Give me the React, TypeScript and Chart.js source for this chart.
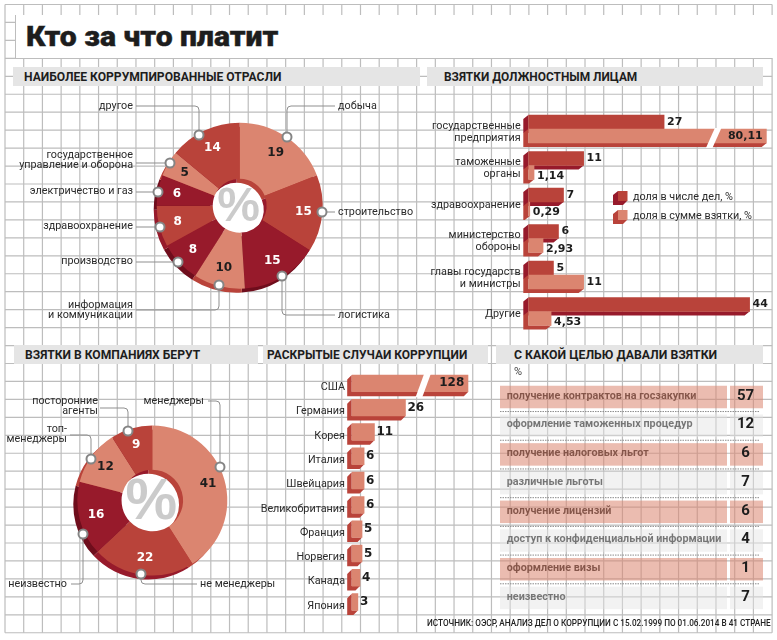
import { useEffect, useRef } from "react";
import { Chart, registerables } from "chart.js";
Chart.register(...registerables);

// ---------- data ----------
const sectorLabels = [["добыча"], ["строительство"], ["логистика"], ["информация", "и коммуникации"], ["производство"], ["здравоохранение"], ["электричество и газ"], ["государственное", "управление и оборона"], ["другое"]];
const sectorValues = [19, 15, 15, 10, 8, 8, 6, 5, 14];
const officialLabels = [["государственные", "предприятия"], ["таможенные", "органы"], ["здравоохранение"], ["министерство", "обороны"], ["главы государств", "и министры"], ["Другие"]];
const shareOfCases = [27, 11, 7, 6, 5, 44];
const shareOfBribes = [80.11, 1.14, 0.29, 2.93, 11, 4.53];
const seriesNames = ["доля в числе дел, %", "доля в сумме взятки, %"];
const roleLabels = [["менеджеры"], ["не менеджеры"], ["неизвестно"], ["топ-", "менеджеры"], ["посторонние", "агенты"]];
const roleValues = [41, 22, 16, 12, 9];
const countries = ["США", "Германия", "Корея", "Италия", "Швейцария", "Великобритания", "Франция", "Норвегия", "Канада", "Япония"];
const countryCases = [128, 26, 11, 6, 6, 6, 5, 5, 4, 3];
const purposes = ["получение контрактов на госзакупки", "оформление таможенных процедур", "получение налоговых льгот", "различные льготы", "получение лицензий", "доступ к конфиденциальной информации", "оформление визы", "неизвестно"];
const purposeValues = [57, 12, 6, 7, 6, 4, 1, 7];
const headers = [
  { text: "НАИБОЛЕЕ КОРРУМПИРОВАННЫЕ ОТРАСЛИ", x: 13, y: 67, w: 407, tx: 24, sx: 0.93 },
  { text: "ВЗЯТКИ ДОЛЖНОСТНЫМ ЛИЦАМ", x: 427, y: 67, w: 336, tx: 444, sx: 0.915 },
  { text: "ВЗЯТКИ В КОМПАНИЯХ БЕРУТ", x: 14, y: 345, w: 244, tx: 25, sx: 0.93 },
  { text: "РАСКРЫТЫЕ СЛУЧАИ КОРРУПЦИИ", x: 263, y: 345, w: 225, tx: 267, sx: 0.92 },
  { text: "С КАКОЙ ЦЕЛЬЮ ДАВАЛИ ВЗЯТКИ", x: 496, y: 345, w: 267, tx: 514, sx: 0.945 },
];

// ---------- styles ----------
const LIGHT = "#db8570", MID = "#b9433a", DARK = "#971a2b", DEEP = "#6f0d1c";
const SIDE: Record<string, string> = { [LIGHT]: MID, [MID]: DARK, [DARK]: DEEP };
const sectorColors = [LIGHT, MID, DARK, LIGHT, DARK, MID, DARK, LIGHT, MID];
const roleColors = [LIGHT, MID, DARK, LIGHT, MID];
const LABEL_FONT = "Roboto, sans-serif";
const LABEL_SIZE = 10.8;
const VALUE_FONT = "bold 12px 'DejaVu Sans', sans-serif";
const INK = "#2b2b2b";

type Leader = { m: [number, number]; path: [number, number][]; tx: number; ty: number; align: CanvasTextAlign };
const sectorLeaders: Leader[] = [
  { m: [287, 137], path: [[335, 106], [287, 106], [287, 137]], tx: 338, ty: 106, align: "left" },
  { m: [322, 212], path: [[335, 212], [322, 212]], tx: 338, ty: 212, align: "left" },
  { m: [282, 276], path: [[335, 315], [282, 315], [282, 276]], tx: 338, ty: 315, align: "left" },
  { m: [219, 285], path: [[136, 310], [219, 310], [219, 285]], tx: 133, ty: 305, align: "right" },
  { m: [178, 262], path: [[136, 262], [178, 262]], tx: 133, ty: 261, align: "right" },
  { m: [160, 227], path: [[136, 227], [160, 227]], tx: 133, ty: 226, align: "right" },
  { m: [158, 192], path: [[136, 192], [158, 192]], tx: 133, ty: 191, align: "right" },
  { m: [170, 163], path: [[136, 163], [170, 163]], tx: 133, ty: 155, align: "right" },
  { m: [199, 135], path: [[136, 106], [199, 106], [199, 135]], tx: 133, ty: 106, align: "right" },
];
const roleLeaders: Leader[] = [
  { m: [220, 467], path: [[208, 401], [220, 401], [220, 467]], tx: 204, ty: 401, align: "right" },
  { m: [141, 574], path: [[197, 584], [141, 584], [141, 574]], tx: 200, ty: 584, align: "left" },
  { m: [83, 534], path: [[71, 584], [83, 584], [83, 534]], tx: 67, ty: 584, align: "right" },
  { m: [91, 459], path: [[70, 435], [91, 435], [91, 459]], tx: 67, ty: 429, align: "right" },
  { m: [128, 431], path: [[100, 408], [128, 408], [128, 431]], tx: 98, ty: 401, align: "right" },
];

function donutPlugin(o: { left: number; top: number; dx: number; dy: number; labelR: number; pctFont: string; leaders: Leader[]; labels: string[][] }) {
  return {
    id: "donut3d",
    beforeDatasetsDraw(chart: any) {
      const ctx = chart.ctx;
      const arcs = chart.getDatasetMeta(0).data;
      const colors = chart.data.datasets[0].backgroundColor;
      const { x, y, innerRadius, outerRadius } = arcs[0];
      ctx.save();
      ctx.fillStyle = "#fff";
      ctx.beginPath();
      ctx.arc(x, y, innerRadius + 1, 0, Math.PI * 2);
      ctx.fill();
      arcs.forEach((a: any, i: number) => {
        ctx.fillStyle = SIDE[colors[i]];
        ctx.beginPath();
        ctx.arc(x + o.dx, y + o.dy, outerRadius, a.startAngle, a.endAngle);
        ctx.arc(x + o.dx, y + o.dy, innerRadius, a.endAngle, a.startAngle, true);
        ctx.closePath();
        ctx.fill();
      });
      ctx.restore();
    },
    afterDatasetsDraw(chart: any) {
      const ctx = chart.ctx;
      const arcs = chart.getDatasetMeta(0).data;
      const ds = chart.data.datasets[0];
      const { x, y } = arcs[0];
      ctx.save();
      ctx.fillStyle = "rgba(200,200,200,0.95)";
      ctx.font = o.pctFont;
      ctx.textAlign = "center";
      ctx.textBaseline = "middle";
      ctx.fillText("%", x - 1, y + 2);
      ctx.font = VALUE_FONT;
      arcs.forEach((a: any, i: number) => {
        const mid = (a.startAngle + a.endAngle) / 2;
        ctx.fillStyle = ds.backgroundColor[i] === LIGHT ? "#1d1d1d" : "#fff";
        ctx.fillText(String(ds.data[i]), x + Math.cos(mid) * o.labelR, y + Math.sin(mid) * o.labelR);
      });
      ctx.translate(-o.left, -o.top);
      o.leaders.forEach((l, i) => {
        ctx.strokeStyle = "#8f8f8f";
        ctx.lineWidth = 1;
        ctx.beginPath();
        ctx.moveTo(l.path[0][0], l.path[0][1]);
        for (let k = 1; k < l.path.length - 1; k++) ctx.arcTo(l.path[k][0], l.path[k][1], l.path[k + 1][0], l.path[k + 1][1], 4);
        const e = l.path[l.path.length - 1];
        ctx.lineTo(e[0], e[1]);
        ctx.stroke();
        ctx.beginPath();
        ctx.arc(l.m[0], l.m[1], 4.5, 0, Math.PI * 2);
        ctx.fillStyle = "#fff";
        ctx.fill();
        ctx.strokeStyle = "#858585";
        ctx.lineWidth = 2;
        ctx.stroke();
        ctx.fillStyle = INK;
        ctx.font = `${LABEL_SIZE}px ${LABEL_FONT}`;
        ctx.textAlign = l.align;
        o.labels[i].forEach((t, k) => ctx.fillText(t, l.tx, l.ty + k * 10.5));
      });
      ctx.restore();
    },
  };
}

function donutConfig(values: number[], colors: string[], cutout: string, box: any, plugin: any) {
  return {
    type: "doughnut",
    data: { labels: values.map(String), datasets: [{ data: values, backgroundColor: colors, borderWidth: 0 }] },
    options: {
      responsive: false,
      animation: false,
      cutout,
      layout: { padding: box },
      plugins: { legend: { display: false }, tooltip: { enabled: false } },
    },
    plugins: [plugin],
  };
}

function fmt(v: number) {
  return String(v).replace(".", ",");
}

function barPlugin(o: { dx: number; dy: number; breakValue: number; gap: number; slant: number; legend?: boolean; left?: number; top?: number; labelGap: number; font: string; shortDrop: number }) {
  return {
    id: "bar3d",
    beforeDatasetsDraw(chart: any) {
      const { ctx, chartArea: a, scales } = chart;
      chart.data.datasets.forEach((ds: any, di: number) => {
        const color = ds.backgroundColor;
        chart.getDatasetMeta(di).data.forEach((b: any) => {
          const top = b.y - b.height / 2, bot = b.y + b.height / 2, xEnd = Math.min(b.x, a.right), x0 = b.base;
          ctx.save();
          ctx.fillStyle = SIDE[color];
          ctx.beginPath();
          ctx.moveTo(x0, top);
          ctx.lineTo(x0 - o.dx, top + o.dy);
          ctx.lineTo(x0 - o.dx, bot + o.dy);
          ctx.lineTo(xEnd - o.dx, bot + o.dy);
          ctx.lineTo(xEnd, bot);
          ctx.lineTo(x0, bot);
          ctx.closePath();
          ctx.fill();
          ctx.beginPath();
          ctx.rect(a.left, 0, a.right - a.left, chart.height);
          ctx.clip();
          b.draw(ctx);
          ctx.restore();
          if (b.x > a.right) {
            const X = scales.x.getPixelForValue(o.breakValue);
            const h0 = top - 1, h1 = bot + o.dy + 1;
            ctx.save();
            ctx.fillStyle = "#fff";
            ctx.beginPath();
            ctx.moveTo(X, h0);
            ctx.lineTo(X + o.gap, h0);
            ctx.lineTo(X + o.gap - o.slant, h1);
            ctx.lineTo(X - o.slant, h1);
            ctx.closePath();
            ctx.fill();
            ctx.restore();
          }
        });
      });
      ctx.save();
      ctx.font = o.font;
      ctx.fillStyle = "#1d1d1d";
      ctx.textBaseline = "middle";
      chart.data.datasets.forEach((ds: any, di: number) => {
        chart.getDatasetMeta(di).data.forEach((b: any, i: number) => {
          const clipped = b.x > a.right;
          const drop = di === 1 && b.x - b.base < 30 ? o.shortDrop : 0;
          ctx.textAlign = clipped ? "right" : "left";
          ctx.fillText(fmt(ds.data[i]), clipped ? a.right - 4 : b.x + o.labelGap, b.y + drop);
        });
      });
      if (o.legend) {
        ctx.translate(-(o.left || 0), -(o.top || 0));
        chart.data.datasets.forEach((ds: any, di: number) => {
          const X = 618, Y = 191 + di * 19;
          ctx.fillStyle = SIDE[ds.backgroundColor];
          ctx.beginPath();
          ctx.moveTo(X, Y);
          ctx.lineTo(X - 5, Y + 4);
          ctx.lineTo(X - 5, Y + 14);
          ctx.lineTo(X + 5, Y + 14);
          ctx.lineTo(X + 9, Y + 10);
          ctx.lineTo(X, Y + 10);
          ctx.closePath();
          ctx.fill();
          ctx.fillStyle = ds.backgroundColor;
          ctx.fillRect(X, Y, 9.5, 10);
          ctx.fillStyle = INK;
          ctx.textAlign = "left";
          ctx.font = `${LABEL_SIZE}px ${LABEL_FONT}`;
          ctx.fillText(ds.label, 633, Y + 6);
        });
      }
      ctx.restore();
      return false;
    },
  };
}

function barConfig(o: { labels: any[]; datasets: any[]; thickness: number; axisW: number; max: number; padding: any; plugin: any; tickFont: any; tickPad: number; labelOffset: number }) {
  return {
    type: "bar",
    data: { labels: o.labels, datasets: o.datasets.map((d) => ({ ...d, barThickness: o.thickness, borderWidth: 0 })) },
    options: {
      indexAxis: "y",
      responsive: false,
      animation: false,
      layout: { padding: o.padding },
      plugins: { legend: { display: false }, tooltip: { enabled: false } },
      scales: {
        x: { display: false, min: 0, max: o.max },
        y: {
          grid: { display: false, drawTicks: false },
          border: { display: false },
          afterFit: (s: any) => { s.width = o.axisW; s.paddingTop = 0; s.paddingBottom = 0; },
          ticks: { autoSkip: false, padding: o.tickPad, labelOffset: o.labelOffset, font: o.tickFont, color: INK, maxRotation: 0, minRotation: 0 },
        },
      },
    },
    plugins: [o.plugin],
  };
}

const tablePlugin = {
  id: "purposeTable",
  beforeDatasetsDraw(chart: any) {
    const { ctx, chartArea: a, scales } = chart;
    const data = chart.data.datasets[0].data;
    ctx.save();
    const L = 10, R1 = a.left, R2 = a.left + 3, R3 = a.left + 36, H = 22.5;
    data.forEach((v: number, i: number) => {
      const y = scales.y.getPixelForTick(i);
      ctx.fillStyle = i % 2 === 0 ? "rgba(219,133,112,0.55)" : "rgba(226,226,226,0.45)";
      ctx.fillRect(L, y - H / 2, R1 - L, H);
      ctx.fillRect(R2, y - H / 2, R3 - R2, H);
      if (i < data.length - 1) {
        ctx.strokeStyle = "#8c8c8c";
        ctx.lineWidth = 1;
        ctx.setLineDash([1.5, 1]);
        ctx.beginPath();
        ctx.moveTo(L, y + H / 2 + 3.3);
        ctx.lineTo(R3 - 3, y + H / 2 + 3.3);
        ctx.stroke();
        ctx.setLineDash([]);
      }
      ctx.fillStyle = "#1d1d1d";
      ctx.font = "bold 15px Roboto, sans-serif";
      ctx.textAlign = "center";
      ctx.textBaseline = "middle";
      ctx.fillText(String(v), (R2 + R3) / 2 - 1, y - 1);
    });
    ctx.restore();
    return false;
  },
};

const C1 = { left: 5, top: 90, w: 415, h: 250 };
const C2 = { left: 420, top: 90, w: 357, h: 260 };
const C3 = { left: 0, top: 365, w: 280, h: 270 };
const C4 = { left: 250, top: 365, w: 240, h: 255 };
const C5 = { left: 490, top: 376, w: 287, h: 240 };

const configs: { box: any; config: () => any }[] = [
  {
    box: C1,
    config: () => donutConfig(sectorValues, sectorColors, "32.5%", { left: 234.7 - 83, right: 415 - 234.7 - 83, top: 115.7 - 83, bottom: 250 - 115.7 - 83 },
      donutPlugin({ left: C1.left, top: C1.top, dx: -3, dy: 4, labelR: 64, pctFont: "bold 48px 'Liberation Sans', sans-serif", leaders: sectorLeaders, labels: sectorLabels })),
  },
  {
    box: C2,
    config: () => barConfig({
      labels: officialLabels,
      datasets: [
        { label: seriesNames[0], data: shareOfCases, backgroundColor: MID },
        { label: seriesNames[1], data: shareOfBribes, backgroundColor: LIGHT },
      ],
      thickness: 14, axisW: 108.3, max: 47.4,
      padding: { top: 20.75, bottom: 20.25, right: 10.3 },
      tickFont: { family: LABEL_FONT, size: LABEL_SIZE, lineHeight: 1.08 }, tickPad: 7.6, labelOffset: 3,
      plugin: barPlugin({ dx: 5, dy: 4, breakValue: 37.1, gap: 6.5, slant: 9, legend: true, left: C2.left, top: C2.top, labelGap: 3, font: "bold 11px 'DejaVu Sans', sans-serif", shortDrop: 3.5 }),
    }),
  },
  {
    box: C3,
    config: () => donutConfig(roleValues, roleColors, "41%", { left: 152.3 - 75, right: 280 - 152.3 - 75, top: 135.5 - 75, bottom: 270 - 135.5 - 75 },
      donutPlugin({ left: C3.left, top: C3.top, dx: -4, dy: 4, labelR: 58, pctFont: "bold 58px 'Liberation Sans', sans-serif", leaders: roleLeaders, labels: roleLabels })),
  },
  {
    box: C4,
    config: () => barConfig({
      labels: countries,
      datasets: [{ label: "cases", data: countryCases, backgroundColor: LIGHT }],
      thickness: 16.7, axisW: 101.7, max: 56.4,
      padding: { top: 6.2, bottom: 5.8, right: 21.7 },
      tickFont: { family: LABEL_FONT, size: LABEL_SIZE, lineHeight: 1 }, tickPad: 6.7, labelOffset: 4,
      plugin: barPlugin({ dx: 4.5, dy: 4.5, breakValue: 35, gap: 6.7, slant: 8.5, labelGap: 2, font: VALUE_FONT, shortDrop: 0 }),
    }),
  },
  {
    box: C5,
    config: () => ({
      type: "bar",
      data: { labels: purposes, datasets: [{ label: "%", data: purposeValues, backgroundColor: "rgba(0,0,0,0)" }] },
      options: {
        indexAxis: "y",
        responsive: false,
        animation: false,
        layout: { padding: { left: 16.7, top: 6.65, bottom: 3.7, right: 14 } },
        plugins: { legend: { display: false }, tooltip: { enabled: false } },
        scales: {
          x: { display: false, min: 0, max: 100 },
          y: {
            grid: { display: false, drawTicks: false },
            border: { display: false },
            afterFit: (s: any) => { s.width = 220.3; s.paddingTop = 0; s.paddingBottom = 0; },
            ticks: { autoSkip: false, padding: 0, crossAlign: "far", labelOffset: -1, font: { family: LABEL_FONT, size: LABEL_SIZE, weight: "bold" }, color: "#1d1d1d" },
          },
        },
      },
      plugins: [tablePlugin],
    }),
  },
];

function Panel({ box, config }: { box: any; config: () => any }) {
  const ref = useRef<HTMLCanvasElement>(null);
  useEffect(() => {
    const c = new Chart(ref.current!, config());
    return () => c.destroy();
  }, []);
  return <canvas ref={ref} width={box.w} height={box.h} style={{ position: "absolute", left: box.left, top: box.top, width: box.w, height: box.h }} />;
}

const GX = 18.71, GY = 17.95, GX0 = 5, GY0 = 4.5, NX = 41, NY = 35;

export default function App() {
  const xs = Array.from({ length: NX + 1 }, (_, i) => GX0 + i * GX);
  const ys = Array.from({ length: NY + 1 }, (_, i) => GY0 + i * GY);
  return (
    <div style={{ position: "absolute", left: 0, top: 0, width: 777, height: 640, background: "#fff", overflow: "hidden" }}>
      <svg width={777} height={640} style={{ position: "absolute", left: 0, top: 0 }}>
        {xs.map((x, i) => <line key={"v" + i} x1={x} x2={x} y1={GY0} y2={GY0 + NY * GY} stroke="#bdbdbd" strokeWidth={1.2} />)}
        {ys.map((y, i) => <line key={"h" + i} x1={GX0} x2={GX0 + NX * GX} y1={y} y2={y} stroke="#bdbdbd" strokeWidth={1.2} />)}
      </svg>
      <div style={{ position: "absolute", left: 15, top: 15, width: 757, height: 43, background: "#fff", borderLeft: "1px solid #bdbdbd" }} />
      <div style={{ position: "absolute", left: 26, top: 15, height: 43, lineHeight: "43px", fontFamily: "Roboto, sans-serif", fontWeight: 900, fontSize: 28, color: "#1d1d1d", whiteSpace: "nowrap", transform: "scaleX(1.077)", transformOrigin: "left center", WebkitTextStroke: "0.4px #1d1d1d" }}>Кто за что платит</div>
      {headers.map((h) => (
        <div key={h.text}>
          <div style={{ position: "absolute", left: h.x, top: h.y, width: h.w, height: 19, background: "#e5e5e5" }} />
          <div style={{ position: "absolute", left: h.tx, top: h.y, height: 19, lineHeight: "20px", fontFamily: "Roboto, sans-serif", fontWeight: 700, fontSize: 13, color: "#1d1d1d", whiteSpace: "nowrap", transform: `scaleX(${h.sx})`, transformOrigin: "left center" }}>{h.text}</div>
        </div>
      ))}
      {configs.map((c, i) => <Panel key={i} box={c.box} config={c.config} />)}
      <div style={{ position: "absolute", left: 514, top: 365, fontFamily: "Roboto, sans-serif", fontSize: 11, color: "#444" }}>%</div>
      <div style={{ position: "absolute", left: 427, top: 618, fontFamily: "Roboto, sans-serif", fontWeight: 500, fontSize: 9, color: "#222", whiteSpace: "nowrap", transform: "scaleX(0.91)", transformOrigin: "left center" }}>ИСТОЧНИК: ОЭСР, АНАЛИЗ ДЕЛ О КОРРУПЦИИ С 15.02.1999 ПО 01.06.2014 В 41 СТРАНЕ</div>
    </div>
  );
}
